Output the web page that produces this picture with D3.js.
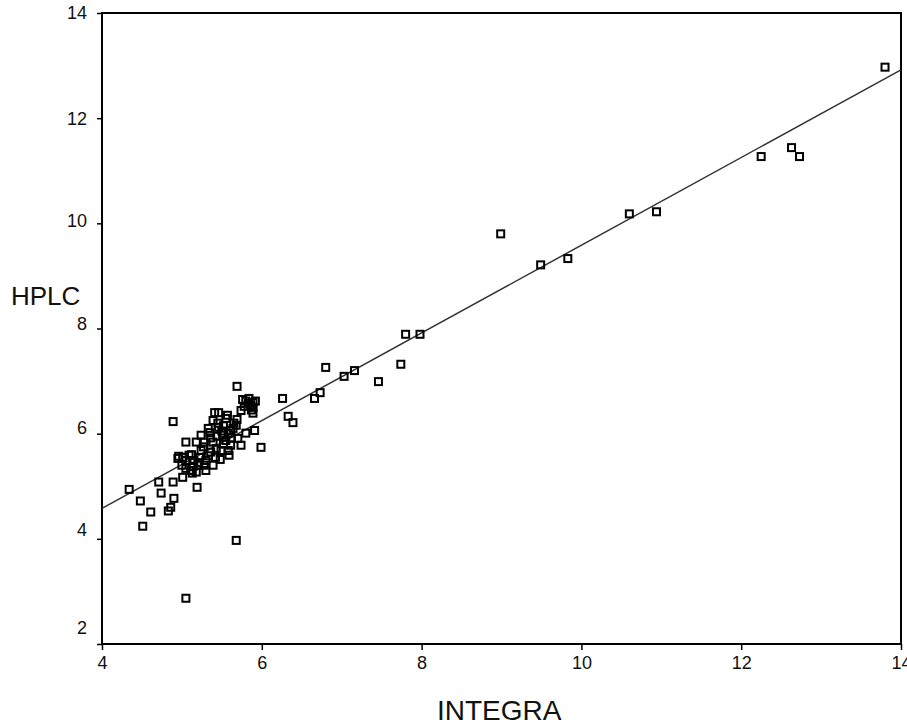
<!DOCTYPE html>
<html>
<head>
<meta charset="utf-8">
<script src="https://cdn.jsdelivr.net/npm/d3@7"></script>
<style>
  body { margin: 0; background: #fff; }
  svg { display: block; font-family: "Liberation Sans", Arial, sans-serif; }
  .axis path { display: none; }
  .axis line { stroke: #000; stroke-width: 1.5; }
  .axis text { font-size: 18px; fill: #111; }
</style>
</head>
<body>
<div id="chart"></div>
<script>
/* DATA */
const integra = [
  13.8, 12.25, 12.63, 12.73, 10.6, 10.94, 8.99, 9.49, 9.83, 7.8, 7.98, 7.74, 7.46,
  7.03, 7.16, 6.8, 6.73, 6.66, 6.26, 6.33, 6.39, 5.99, 5.91, 5.69, 5.68, 5.05,
  // lower left
  4.34, 4.48, 4.61, 4.51, 4.71, 4.74, 4.90, 4.83, 4.86, 5.01, 4.89, 5.13, 5.19, 5.05, 4.89,
  // dense cluster
  5.41, 5.33, 5.46, 5.65, 5.58, 5.69, 5.80, 5.70, 5.28, 5.39, 5.55, 5.18, 5.05, 5.49,
  5.36, 5.58, 5.59, 5.48, 5.30, 5.18, 5.11, 4.95, 5.01, 5.24, 5.15, 5.05, 5.30, 5.39,
  5.43, 5.61, 5.74, 5.51, 5.39, 5.55, 5.61, 5.76, 5.84, 5.89, 5.89, 5.89, 5.83, 5.74,
  5.24, 5.68, 5.46, 4.96, 5.09, 5.21,
  5.80, 5.86, 5.87, 5.78, 5.92, 5.35, 5.44, 5.52, 5.62, 5.27, 5.33, 5.42, 5.22, 5.12,
  5.28, 5.45, 5.52, 5.64, 5.36, 5.20, 5.00, 5.14, 5.57, 5.50
];
const hplc = [
  12.97, 11.27, 11.44, 11.27, 10.18, 10.22, 9.80, 9.21, 9.33, 7.89, 7.89, 7.32, 6.99,
  7.09, 7.20, 7.26, 6.78, 6.67, 6.67, 6.33, 6.21, 5.74, 6.06, 6.90, 3.97, 2.87,
  4.94, 4.72, 4.51, 4.24, 5.08, 4.87, 4.77, 4.53, 4.60, 5.17, 5.08, 5.25, 4.98, 5.34, 6.23,
  6.40, 6.10, 6.12, 6.20, 6.01, 6.27, 6.01, 5.91, 5.84, 5.84, 5.87, 5.84, 5.84, 5.68,
  5.65, 5.68, 5.59, 5.51, 5.30, 5.27, 5.30, 5.53, 5.55, 5.68, 5.49, 5.49, 5.49, 5.40,
  5.72, 5.78, 5.78, 5.97, 6.25, 6.29, 6.06, 6.65, 6.67, 6.59, 6.50, 6.39, 6.58, 6.44,
  5.97, 6.16, 6.40, 5.57, 5.59, 5.40,
  6.62, 6.55, 6.45, 6.52, 6.62, 6.02, 5.95, 5.80, 5.92, 5.75, 5.58, 5.55, 5.55, 5.60,
  5.40, 6.20, 6.15, 6.10, 5.92, 5.45, 5.40, 5.38, 6.35, 6.05
];
const xTicks = [4, 6, 8, 10, 12, 14];
const yTicks = [2, 4, 6, 8, 10, 12, 14];
// fitted line as seen in the picture
const fitIntercept = 1.244, fitSlope = 0.834;

/* LAYOUT */
const width = 907, height = 728;
const margin = { top: 13, right: 6, bottom: 84, left: 102 };

const svg = d3.select("#chart").append("svg")
  .attr("width", width)
  .attr("height", height);

const xScale = d3.scaleLinear().domain([4, 14]).range([margin.left, width - margin.right]);
const yScale = d3.scaleLinear().domain([2, 14]).range([height - margin.bottom, margin.top]);

// label nudges so the y numbers sit like in the original
const yLabelShift = { 2: -17, 4: -9, 6: -6, 8: -5, 10: -3, 12: 0, 14: -1 };

// axes
svg.append("g")
  .attr("class", "axis x-axis")
  .attr("transform", `translate(0,${height - margin.bottom})`)
  .call(d3.axisBottom(xScale).tickValues(xTicks).tickSize(6).tickPadding(6).tickFormat(d3.format("d")));

const yAxis = svg.append("g")
  .attr("class", "axis y-axis")
  .attr("transform", `translate(${margin.left},0)`)
  .call(d3.axisLeft(yScale).tickValues(yTicks).tickSize(5).tickPadding(10).tickFormat(d3.format("d")));
yAxis.selectAll(".tick text").attr("dy", d => (6 + yLabelShift[d]) + "px");

// frame
svg.append("rect")
  .attr("x", xScale(4))
  .attr("y", yScale(14))
  .attr("width", xScale(14) - xScale(4))
  .attr("height", yScale(2) - yScale(14))
  .attr("fill", "none")
  .attr("stroke", "#000")
  .attr("stroke-width", 2);

// regression line
svg.append("line")
  .attr("x1", xScale(4))
  .attr("y1", yScale(fitIntercept + fitSlope * 4))
  .attr("x2", xScale(14))
  .attr("y2", yScale(fitIntercept + fitSlope * 14))
  .attr("stroke", "#333")
  .attr("stroke-width", 1.5);

// points
const pts = integra.map((x, i) => ({ x: x, y: hplc[i] }));
svg.selectAll("rect.pt")
  .data(pts)
  .join("rect")
  .attr("class", "pt")
  .attr("x", d => xScale(d.x) - 3.5)
  .attr("y", d => yScale(d.y) - 3.5)
  .attr("width", 7)
  .attr("height", 7)
  .attr("fill", "none")
  .attr("stroke", "#000")
  .attr("stroke-width", 2);

// axis titles
svg.append("text")
  .attr("x", 11)
  .attr("y", 305)
  .attr("font-size", 26)
  .attr("fill", "#111")
  .text("HPLC");

svg.append("text")
  .attr("x", 437)
  .attr("y", 720)
  .attr("font-size", 28)
  .attr("fill", "#111")
  .text("INTEGRA");
</script>
</body>
</html>
